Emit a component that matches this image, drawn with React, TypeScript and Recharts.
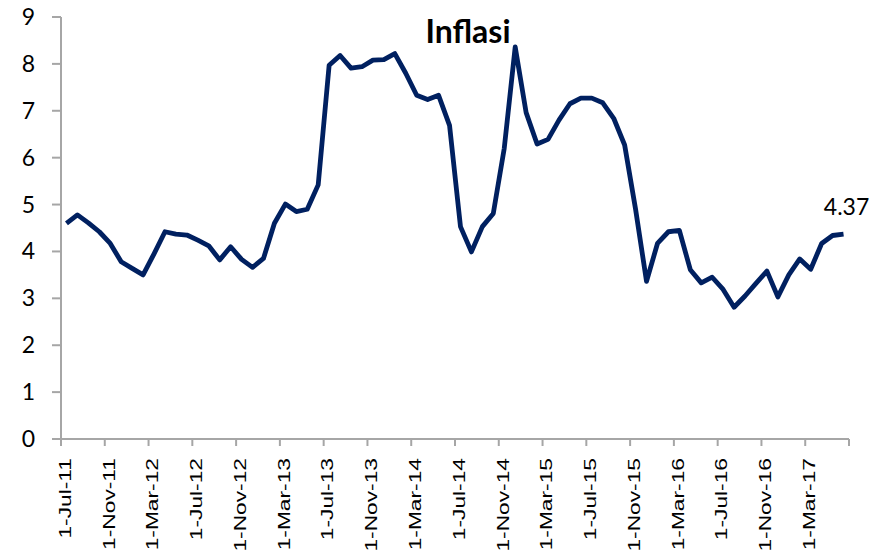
import React from "react";
import { LineChart, Line, XAxis, YAxis, LabelList } from "recharts";

// monthly categories, Jul 2011 .. Jun 2017
const months = [
  "Jul-11", "Aug-11", "Sep-11", "Oct-11", "Nov-11", "Dec-11",
  "Jan-12", "Feb-12", "Mar-12", "Apr-12", "May-12", "Jun-12",
  "Jul-12", "Aug-12", "Sep-12", "Oct-12", "Nov-12", "Dec-12",
  "Jan-13", "Feb-13", "Mar-13", "Apr-13", "May-13", "Jun-13",
  "Jul-13", "Aug-13", "Sep-13", "Oct-13", "Nov-13", "Dec-13",
  "Jan-14", "Feb-14", "Mar-14", "Apr-14", "May-14", "Jun-14",
  "Jul-14", "Aug-14", "Sep-14", "Oct-14", "Nov-14", "Dec-14",
  "Jan-15", "Feb-15", "Mar-15", "Apr-15", "May-15", "Jun-15",
  "Jul-15", "Aug-15", "Sep-15", "Oct-15", "Nov-15", "Dec-15",
  "Jan-16", "Feb-16", "Mar-16", "Apr-16", "May-16", "Jun-16",
  "Jul-16", "Aug-16", "Sep-16", "Oct-16", "Nov-16", "Dec-16",
  "Jan-17", "Feb-17", "Mar-17", "Apr-17", "May-17", "Jun-17",
];

const inflasi = [
  4.6, 4.78, 4.61, 4.42, 4.17, 3.78,
  3.64, 3.5, 3.95, 4.42, 4.37, 4.35,
  4.24, 4.12, 3.82, 4.1, 3.83, 3.66,
  3.85, 4.6, 5.01, 4.85, 4.9, 5.42,
  7.97, 8.18, 7.91, 7.94, 8.08, 8.09,
  8.22, 7.8, 7.33, 7.24, 7.33, 6.69,
  4.53, 3.99, 4.53, 4.81, 6.2, 8.36,
  6.96, 6.29, 6.39, 6.8, 7.15, 7.27,
  7.27, 7.17, 6.84, 6.27, 4.9, 3.36,
  4.17, 4.42, 4.45, 3.61, 3.33, 3.45,
  3.19, 2.81, 3.05, 3.32, 3.58, 3.03,
  3.5, 3.84, 3.62, 4.17, 4.34, 4.37,
];

const tickLabels = [
  "1-Jul-11", "1-Nov-11", "1-Mar-12", "1-Jul-12", "1-Nov-12", "1-Mar-13",
  "1-Jul-13", "1-Nov-13", "1-Mar-14", "1-Jul-14", "1-Nov-14", "1-Mar-15",
  "1-Jul-15", "1-Nov-15", "1-Mar-16", "1-Jul-16", "1-Nov-16", "1-Mar-17",
];

const yTicks = [0, 1, 2, 3, 4, 5, 6, 7, 8, 9];

// each month sits in the middle of its band on the date axis
const data = months.map((m, i) => ({ month: m, pos: i + 0.5, value: inflasi[i] }));
const xTicks = [...tickLabels.map((_, i) => i * 4), months.length];

const XTick = (props: any) => {
  const { x, payload } = props;
  const label = tickLabels[payload.value / 4];
  if (!label) return null;
  return (
    <text
      transform={`translate(${x + 9.8},458) rotate(-90) scale(1.34,1)`}
      textAnchor="end"
      fontFamily="Liberation Sans"
      fontSize={17}
      fill="#000"
    >
      {label}
    </text>
  );
};

const YTick = (props: any) => (
  <text x={35} y={props.y} dy={8} textAnchor="end" fontFamily="Lato" fontSize={23} fill="#000">
    {props.payload.value}
  </text>
);

const LastLabel = (props: any) => {
  const { x, y, index, value } = props;
  if (index !== inflasi.length - 1) return null;
  return (
    <text x={x + 3} y={y - 19} textAnchor="middle" fontFamily="Lato" fontSize={23} fill="#000">
      {value}
    </text>
  );
};

const App = () => {
  return (
    <div style={{ position: "absolute", left: 0, top: 0, width: 881, height: 560, background: "#fff" }}>
      <LineChart width={881} height={560} data={data} margin={{ top: 17, right: 32, bottom: 0, left: 0 }}>
        <XAxis
          dataKey="pos"
          type="number"
          domain={[0, months.length]}
          ticks={xTicks}
          interval={0}
          height={121}
          tickSize={7}
          stroke="#a6a6a6"
          strokeWidth={2}
          tick={<XTick />}
        />
        <YAxis
          type="number"
          domain={[0, 9]}
          ticks={yTicks}
          interval={0}
          width={61}
          tickSize={9}
          stroke="#a6a6a6"
          strokeWidth={2}
          tick={<YTick />}
        />
        <Line
          type="linear"
          dataKey="value"
          stroke="#002060"
          strokeWidth={4.8}
          strokeLinejoin="round"
          dot={false}
          isAnimationActive={false}
        >
          <LabelList dataKey="value" content={<LastLabel />} />
        </Line>
      </LineChart>
      <svg width={881} height={560} style={{ position: "absolute", left: 0, top: 0, pointerEvents: "none" }}>
        <text x={468} y={43} textAnchor="middle" fontFamily="Lato" fontWeight="bold" fontSize={32} fill="#000">
          Inflasi
        </text>
      </svg>
    </div>
  );
};

export default App;
